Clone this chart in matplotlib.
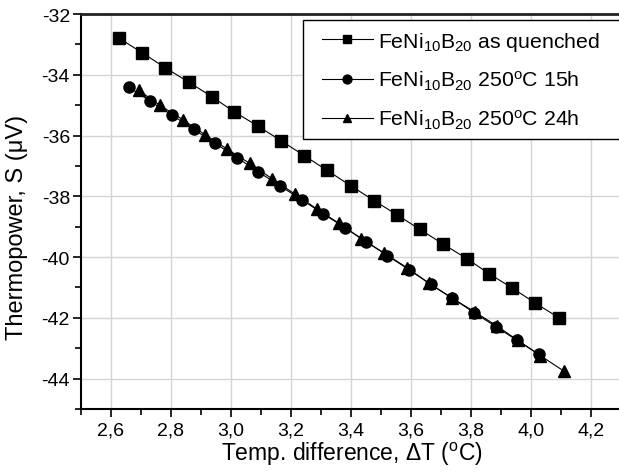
import numpy as np
import matplotlib
matplotlib.use('Agg')
import matplotlib.pyplot as plt
from matplotlib.patches import Rectangle
from matplotlib.ticker import MultipleLocator, FuncFormatter

plt.rcParams['font.family'] = ['Liberation Sans', 'DejaVu Sans']
plt.rcParams['mathtext.fontset'] = 'custom'
plt.rcParams['mathtext.rm'] = 'Liberation Sans'
plt.rcParams['mathtext.it'] = 'Liberation Sans:italic'

# 数据
dt_quenched = [2.626, 2.703, 2.781, 2.859, 2.936, 3.011, 3.090, 3.167, 3.244, 3.321,
               3.399, 3.477, 3.552, 3.630, 3.707, 3.786, 3.861, 3.938, 4.014, 4.092]
s_quenched = [-32.79, -33.27, -33.77, -34.24, -34.72, -35.22, -35.69, -36.17, -36.66, -37.15,
              -37.65, -38.14, -38.60, -39.09, -39.57, -40.05, -40.55, -41.02, -41.51, -41.99]

dt_15h = [2.659, 2.731, 2.804, 2.876, 2.948, 3.020, 3.091, 3.162, 3.236, 3.306,
          3.380, 3.451, 3.521, 3.593, 3.666, 3.737, 3.811, 3.883, 3.954, 4.027]
s_15h = [-34.40, -34.87, -35.33, -35.80, -36.26, -36.73, -37.19, -37.65, -38.11, -38.57,
         -39.03, -39.49, -39.95, -40.41, -40.90, -41.35, -41.83, -42.29, -42.74, -43.20]

dt_24h = [2.692, 2.764, 2.840, 2.913, 2.988, 3.063, 3.137, 3.212, 3.287, 3.360,
          3.433, 3.511, 3.587, 3.660, 3.737, 3.812, 3.887, 3.956, 4.031, 4.111]
s_24h = [-34.51, -35.01, -35.48, -35.97, -36.45, -36.92, -37.42, -37.92, -38.42, -38.89,
         -39.39, -39.87, -40.35, -40.86, -41.35, -41.80, -42.27, -42.74, -43.24, -43.76]

labels = [r'FeNi$_{10}$B$_{20}$ as quenched',
          r'FeNi$_{10}$B$_{20}$ 250$^{\rm o}$C 15h',
          r'FeNi$_{10}$B$_{20}$ 250$^{\rm o}$C 24h']

W, H = 619, 477
fig = plt.figure(figsize=(W / 100, H / 100), dpi=100)
# 轴右边超出图像边缘 (原图被裁切)
ax = fig.add_axes([81 / W, 1 - 410 / H, (623 - 81) / W, (410 - 15) / H])

kw = dict(color='black', linewidth=0.8, markersize=8)
ax.plot(dt_quenched, s_quenched, marker='s', label=labels[0], **kw)
ax.plot(dt_15h, s_15h, marker='o', label=labels[1], **kw)
ax.plot(dt_24h, s_24h, marker='^', label=labels[2], **kw)

ax.set_xlim(2.5, 4.307)
ax.set_ylim(-45, -32)
ax.xaxis.set_major_locator(MultipleLocator(0.2))
ax.xaxis.set_minor_locator(MultipleLocator(0.1))
ax.yaxis.set_major_locator(MultipleLocator(2))
ax.yaxis.set_minor_locator(MultipleLocator(1))
ax.xaxis.set_major_formatter(FuncFormatter(lambda v, p: f'{v:.1f}'.replace('.', ',')))
ax.yaxis.set_major_formatter(FuncFormatter(lambda v, p: f'{v:.0f}'.replace('\u2212', '-')))

ax.grid(True, which='major', color='#d4d4d4', linewidth=1.0)
ax.set_axisbelow(True)
ax.tick_params(which='major', direction='out', length=6, width=1.2, labelsize=14, colors='black')
ax.tick_params(which='minor', direction='out', length=4, width=1.2)
ax.tick_params(axis='x', pad=3)
ax.tick_params(axis='y', pad=2)
for side in ['left', 'bottom']:
    ax.spines[side].set_linewidth(1.5)
ax.spines['top'].set_linewidth(2.0)
ax.spines['top'].set_color('#222222')
ax.spines['right'].set_visible(False)

ax.set_xlabel(r'Temp. difference, $\Delta$T ($^{\rm o}$C)', fontsize=16.5, labelpad=1)
# y轴标题直接放在图上
fig.text(17 / W, 1 - 227 / H, 'Thermopower, S (\u03bcV)', fontsize=17,
         rotation=90, ha='center', va='center')

# 图例: 框单独画, 左边留更宽的空白
box = Rectangle((303 / W, 1 - 140 / H), (622 - 303) / W, (140 - 21) / H,
                transform=fig.transFigure, facecolor='white', edgecolor='black',
                linewidth=1.0, zorder=4)
ax.add_artist(box)
box.set_clip_on(False)
leg = ax.legend(loc='upper left', bbox_to_anchor=(313 / W, 1 - 22 / H),
                bbox_transform=fig.transFigure, fontsize=15.3, frameon=False,
                handlelength=2.4, handletextpad=0.25, labelspacing=0.75,
                borderpad=0.4, borderaxespad=0, markerscale=0.8)
leg.set_zorder(5)

fig.savefig('out.png', dpi=100)
